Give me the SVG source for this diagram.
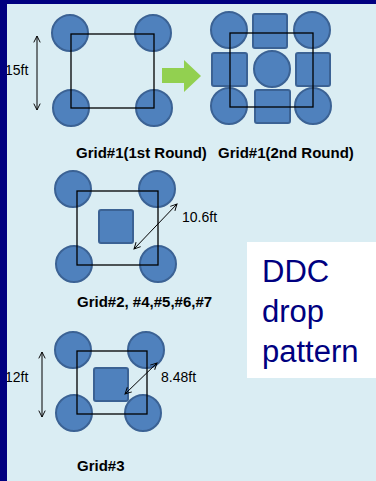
<svg xmlns="http://www.w3.org/2000/svg" width="376" height="481" viewBox="0 0 376 481">
<defs>
<style>
.c{fill:#4f81bd;stroke:#3b6294;stroke-width:2}
.s{fill:#4f81bd;stroke:#3b6294;stroke-width:2}
.g{fill:none;stroke:#000;stroke-width:1.3}
.a{fill:none;stroke:#000;stroke-width:1}
.lb{font-family:"Liberation Sans",Arial,sans-serif;font-weight:bold;font-size:15px;fill:#000}
.dm{font-family:"Liberation Sans",Arial,sans-serif;font-size:14px;fill:#000}
.big{font-family:"Liberation Sans",Arial,sans-serif;font-size:31px;fill:#000080}
</style>
<marker id="ah" viewBox="0 0 10 10" refX="9" refY="5" markerWidth="8" markerHeight="8" markerUnits="userSpaceOnUse" orient="auto-start-reverse">
<path d="M1,1 L9,5 L1,9" fill="none" stroke="#000" stroke-width="1.2"/>
</marker>
</defs>
<rect x="0" y="0" width="376" height="481" fill="#000080"/>
<rect x="7" y="4" width="369" height="477" fill="#daedf3"/>

<g id="grid1-first">
<circle class="c" cx="70" cy="33" r="18"/>
<circle class="c" cx="153" cy="33" r="18"/>
<circle class="c" cx="71" cy="108" r="18"/>
<circle class="c" cx="154" cy="108" r="18"/>
<rect class="g" x="71" y="34" width="83" height="74"/>
</g>

<g id="grid1-second">
<circle class="c" cx="229" cy="30" r="18"/>
<circle class="c" cx="312" cy="30" r="18"/>
<circle class="c" cx="229" cy="106" r="18"/>
<circle class="c" cx="313" cy="106" r="18"/>
<circle class="c" cx="272" cy="69" r="18"/>
<rect class="s" x="253" y="14" width="34" height="34" rx="2"/>
<rect class="s" x="212" y="53" width="35" height="33" rx="2"/>
<rect class="s" x="296" y="53" width="34" height="33" rx="2"/>
<rect class="s" x="255" y="90" width="35" height="33" rx="2"/>
<rect class="g" x="230" y="33" width="83" height="74"/>
</g>

<g id="grid2">
<circle class="c" cx="73" cy="189" r="18"/>
<circle class="c" cx="157" cy="189" r="18"/>
<circle class="c" cx="74" cy="264" r="18"/>
<circle class="c" cx="158" cy="264" r="18"/>
<rect class="s" x="99" y="210" width="34" height="33" rx="2"/>
<rect class="g" x="77" y="191" width="81" height="74"/>
</g>

<g id="grid3">
<circle class="c" cx="73" cy="350" r="18"/>
<circle class="c" cx="146" cy="350" r="18"/>
<circle class="c" cx="74" cy="413" r="18"/>
<circle class="c" cx="143" cy="413" r="18"/>
<rect class="s" x="94" y="368" width="34" height="33" rx="2"/>
<rect class="g" x="77" y="351" width="70" height="63"/>
</g>

<g id="ddc-box">
<rect x="247" y="242" width="129" height="136" fill="#fff"/>
<text class="big" x="262" y="282">DDC</text>
<text class="big" x="262" y="322">drop</text>
<text class="big" x="262" y="362">pattern</text>
</g>

<g id="connectors">
<path d="M162,68 H184 V60 L201,76 L184,92 V83 H162 Z" fill="#92d050"/>
<line class="a" x1="37" y1="36" x2="37" y2="110" marker-start="url(#ah)" marker-end="url(#ah)"/>
<line class="a" x1="134" y1="249" x2="177" y2="204" marker-start="url(#ah)" marker-end="url(#ah)"/>
<line class="a" x1="42" y1="352" x2="42" y2="417" marker-start="url(#ah)" marker-end="url(#ah)"/>
<line class="a" x1="125" y1="394" x2="157" y2="363" marker-start="url(#ah)" marker-end="url(#ah)"/>
</g>

<g id="labels">
<text class="dm" x="5" y="75">15ft</text>
<text class="dm" x="182" y="222">10.6ft</text>
<text class="dm" x="5" y="382">12ft</text>
<text class="dm" x="161" y="382">8.48ft</text>
<text class="lb" x="76" y="158">Grid#1(1st Round)</text>
<text class="lb" x="218" y="158">Grid#1(2nd Round)</text>
<text class="lb" x="77" y="307">Grid#2, #4,#5,#6,#7</text>
<text class="lb" x="77" y="471">Grid#3</text>
</g>
<rect x="0" y="0" width="7" height="481" fill="#000080"/>
</svg>
